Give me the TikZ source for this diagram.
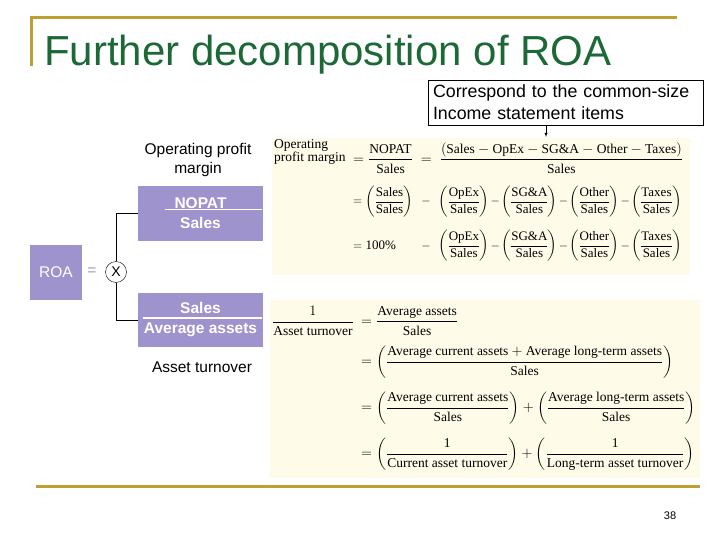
\documentclass[tikz,border=0pt]{standalone}
\usepackage{amsmath}
\usepackage{amssymb}
\usepackage{fontspec}
\setmainfont{Liberation Serif}
\setsansfont{Liberation Sans}
\usepackage{tikz}
\usetikzlibrary{arrows,arrows.meta}

\definecolor{titlegreen}{RGB}{28,104,54}
\definecolor{rulegold}{RGB}{190,160,50}
\definecolor{boxpurple}{RGB}{158,147,204}
\definecolor{panelcream}{RGB}{255,251,233}

\newcommand{\tx}[1]{\text{#1}}
\newcommand{\pfrac}[2]{\left(\dfrac{\tx{#1}}{\tx{#2}}\right)}
\newcommand{\pfract}[2]{\left(\mkern-1mu\dfrac{\tx{#1}}{\tx{#2}}\mkern-1mu\right)}
\newcommand{\tightbin}{\medmuskip=2mu\relax}

\begin{document}
\begin{tikzpicture}[>=latex, x=1pt, y=-1pt,
		purplebox/.style={fill=boxpurple, text=white, font=\sffamily\bfseries\fontsize{15.5}{20}\selectfont, align=center, inner sep=0pt},
		slidetext/.style={font=\sffamily\fontsize{15.5}{19}\selectfont, align=center, inner sep=0pt},
		eqn/.style={font=\fontsize{13.5}{16}\selectfont, anchor=west, inner sep=0pt},
		eqnsmall/.style={eqn, font=\fontsize{13}{16}\selectfont},
		fracbar/.style={white, line width=1.2pt}]
		\useasboundingbox (0,0) rectangle (720,540);
		% Cornice e titolo
		\draw [rulegold, line width=3pt] (31,66) -- (31,18) -- (677,18);
		\draw [rulegold, line width=3pt] (36,486) -- (700,486);
		\node [anchor=base west, inner sep=0pt, text=titlegreen, font=\sffamily\fontsize{42}{48}\selectfont] (title) at (44,66) {Further decomposition of ROA};
		% Pannelli delle formule
		\fill [panelcream] (272,138) rectangle (690,275);
		\fill [panelcream] (270,300) rectangle (700,478);
		% Nota
		\node [draw, text width=265pt, inner xsep=5pt, minimum height=45pt, align=left, font=\sffamily\fontsize{17.8}{22}\selectfont] (callout) at (565.5,102.5) {Correspond to the common-size\\Income statement items};
		\coordinate (arrowtip) at (546,137);
		\draw [->] (callout.south -| arrowtip) -- (arrowtip);
		% Albero ROA
		\node [purplebox, minimum width=52pt, minimum height=55pt, font=\sffamily\fontsize{15.5}{19}\selectfont] (roa) at (56,272.5) {ROA};
		\node [text=boxpurple, font=\sffamily\fontsize{15.5}{19}\selectfont] (equals) at (92,272) {=};
		\node [draw, circle, minimum size=21pt, inner sep=0pt, font=\sffamily\fontsize{14}{14}\selectfont] (mult) at (116,272) {X};
		\node [purplebox, minimum width=125pt, minimum height=55pt] (margin) at (200.5,213.5) {NOPAT\\Sales};
		\node [purplebox, minimum width=125pt, minimum height=54pt] (turnover) at (200.5,320) {Sales\\Average assets};
		\draw [fracbar] ([shift={(27,-4)}]margin.west) -- ([shift={(-1,-4)}]margin.east);
		\draw [fracbar] ([shift={(5,-2)}]turnover.west) -- ([shift={(-1,-2)}]turnover.east);
		\draw [line width=0.8pt] (mult.north) |- (margin.west);
		\draw [line width=0.8pt] (mult.south) |- (turnover.west);
		\node [slidetext] (marginlabel) at (198,160) {Operating profit\\margin};
		\node [slidetext] (turnoverlabel) at (202,367) {Asset turnover};
		% Margine operativo
		\node [eqn, align=left, font=\fontsize{13.5}{12}\selectfont] (opmlabel) at (274,152) {Operating\\profit margin};
		\node [eqn] (opm1) at (353,158) {$= \dfrac{\tx{NOPAT}}{\tx{Sales}} \;=\; \dfrac{(\tx{Sales} - \tx{OpEx} - \tx{SG\&A} - \tx{Other} - \tx{Taxes})}{\tx{Sales}}$};
		\node [eqnsmall] (opm2) at (353,202) {$\tightbin = \pfract{Sales}{Sales} \;\;-\;\; \pfract{OpEx}{Sales} - \pfract{SG\&A}{Sales} - \pfract{Other}{Sales} - \pfract{Taxes}{Sales}$};
		\node [eqnsmall] (opm3) at (353,246) {$\tightbin = \rlap{100\%}\hphantom{\pfract{Sales}{Sales}} \;\;-\;\; \pfract{OpEx}{Sales} - \pfract{SG\&A}{Sales} - \pfract{Other}{Sales} - \pfract{Taxes}{Sales}$};
		% Rotazione dell'attivo
		\node [eqn] (at1) at (272,321) {$\dfrac{1}{\tx{Asset turnover}}$};
		\node [eqn] (at1b) at (361,321) {$= \dfrac{\tx{Average assets}}{\tx{Sales}}$};
		\node [eqn] (at2) at (361,362) {$= \left(\dfrac{\tx{Average current assets} + \tx{Average long-term assets}}{\tx{Sales}}\right)$};
		\node [eqn] (at3) at (361,408) {$= \pfrac{Average current assets}{Sales} + \pfrac{Average long-term assets}{Sales}$};
		\node [eqn] (at4) at (361,454) {$= \pfrac{1}{Current asset turnover} + \pfrac{1}{Long-term asset turnover}$};
		% Numero pagina
		\node [font=\sffamily\fontsize{11}{11}\selectfont] (page) at (670,516) {38};
	\end{tikzpicture}
\end{document}
